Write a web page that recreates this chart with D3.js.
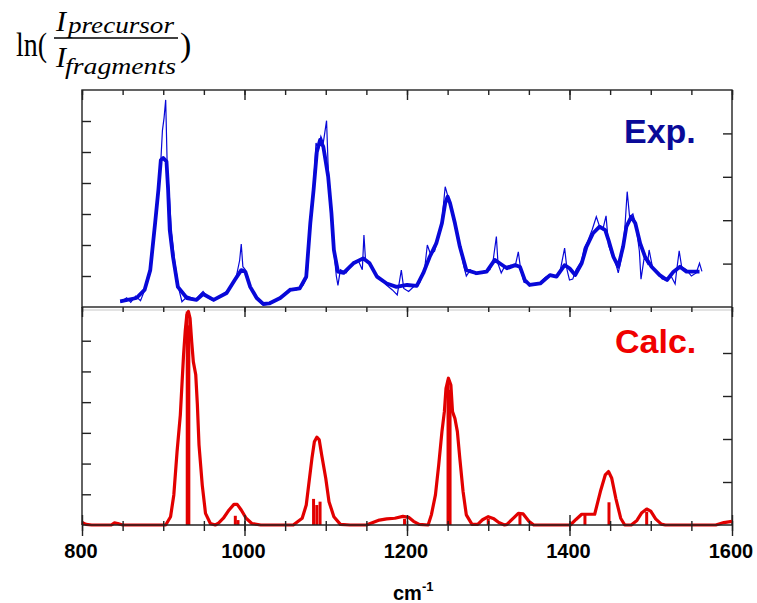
<!DOCTYPE html>
<html>
<head>
<meta charset="utf-8">
<script src="https://cdn.jsdelivr.net/npm/d3@7/dist/d3.min.js"></script>
<style>
  body { margin: 0; background: #fff; }
  svg { display: block; }
</style>
</head>
<body>
<div id="chart"></div>
<script>
// wavenumber ticks
var xTicksMinor = [800, 850, 900, 950, 1000, 1050, 1100, 1150, 1200, 1250, 1300, 1350, 1400, 1450, 1500, 1550, 1600],
    xTicksMajor = [800, 1000, 1200, 1400, 1600];

// experimental spectrum, smoothed (thick line)
var expWn = [847, 867, 877, 884, 890, 894, 897, 900, 904, 906, 908, 912, 918, 929, 941, 949, 962, 978, 988, 996,
    1001, 1007, 1015, 1023, 1031, 1044, 1056, 1068, 1076, 1081, 1085, 1089, 1093, 1097, 1099, 1103, 1107, 1110, 1115, 1122,
    1134, 1146, 1154, 1163, 1175, 1187, 1200, 1212, 1220, 1228, 1236, 1243, 1247, 1250, 1253, 1259, 1265, 1273, 1286, 1298,
    1308, 1314, 1323, 1333, 1339, 1345, 1351, 1364, 1376, 1384, 1394, 1400, 1407, 1415, 1421, 1429, 1437, 1444, 1448, 1454,
    1460, 1466, 1470, 1476, 1481, 1487, 1493, 1501, 1511, 1520, 1528, 1536, 1544, 1552, 1560];
var expVal = [0.18, 0.29, 0.55, 1.19, 2.71, 3.77, 4.74, 4.81, 4.69, 3.77, 2.48, 1.62, 0.65, 0.29, 0.23, 0.42, 0.23, 0.45, 0.87, 1.19,
    1.14, 0.65, 0.29, 0.10, 0.12, 0.29, 0.55, 0.60, 0.98, 2.71, 3.77, 5.0, 5.39, 5.17, 4.85, 4.20, 3.03, 1.84, 1.14, 1.10,
    1.41, 1.57, 1.41, 0.98, 0.76, 0.65, 0.71, 0.68, 1.09, 1.62, 2.05, 2.70, 3.35, 3.56, 3.35, 2.70, 1.95, 1.19, 1.09, 1.14,
    1.52, 1.41, 1.25, 1.35, 1.30, 0.87, 0.71, 0.76, 1.03, 0.98, 1.35, 1.25, 1.03, 1.41, 1.95, 2.38, 2.59, 2.48, 2.16, 1.62,
    1.30, 1.95, 2.59, 2.91, 2.70, 2.05, 1.62, 1.30, 1.03, 0.87, 1.14, 1.30, 1.14, 1.14, 1.14];

// experimental spectrum, raw (thin line)
var rawWn = [847, 855, 860, 866, 872, 878, 884, 890, 894, 897, 899, 901, 903, 905, 907, 910, 914, 919, 923, 930,
    940, 949, 955, 962, 970, 978, 985, 990, 994, 996, 998, 1001, 1006, 1014, 1023, 1031, 1040, 1048, 1056, 1064,
    1072, 1077, 1081, 1085, 1088, 1091, 1094, 1097, 1101, 1103, 1107, 1110, 1113, 1115, 1118, 1125, 1134, 1140, 1145, 1147,
    1149, 1155, 1160, 1168, 1175, 1182, 1188, 1193, 1196, 1202, 1210, 1216, 1222, 1225, 1229, 1234, 1238, 1243, 1247, 1250,
    1254, 1260, 1266, 1270, 1273, 1278, 1285, 1294, 1302, 1306, 1310, 1312, 1316, 1320, 1328, 1333, 1337, 1340, 1344, 1350,
    1357, 1364, 1370, 1376, 1382, 1388, 1394, 1397, 1400, 1404, 1408, 1415, 1418, 1422, 1428, 1433, 1437, 1441, 1445, 1448,
    1452, 1456, 1460, 1464, 1468, 1471, 1474, 1478, 1482, 1486, 1488, 1492, 1496, 1498, 1502, 1508, 1514, 1520, 1525, 1530,
    1532, 1535, 1538, 1544, 1550, 1556, 1560, 1563];
var rawVal = [0.15, 0.3, 0.15, 0.35, 0.2, 0.6, 1.3, 2.8, 3.9, 4.7, 5.7, 6.1, 6.68, 4.4, 3.8, 2.5, 1.5, 0.6, 0.17, 0.35,
    0.25, 0.5, 0.3, 0.2, 0.35, 0.5, 0.7, 1.0, 1.5, 2.03, 1.3, 1.2, 0.7, 0.3, 0.05, 0.1, 0.25, 0.4, 0.6, 0.55,
    0.7, 0.95, 2.8, 3.9, 5.29, 5.1, 5.5, 5.3, 6.01, 4.5, 3.0, 1.8, 1.0, 0.7, 1.2, 1.1, 1.45, 1.5, 1.2, 2.32,
    1.5, 1.4, 1.1, 0.9, 0.7, 0.55, 0.39, 1.19, 0.6, 0.5, 0.7, 0.8, 1.3, 2.0, 1.7, 1.8, 2.2, 2.8, 3.88, 3.6,
    3.3, 2.6, 1.8, 1.3, 1.0, 1.2, 1.05, 1.15, 1.2, 1.5, 2.27, 1.4, 1.1, 1.3, 1.35, 1.3, 1.78, 1.2, 0.8, 0.75,
    0.7, 0.8, 0.95, 1.05, 1.0, 1.1, 1.9, 1.2, 0.87, 0.9, 1.2, 1.5, 1.9, 2.1, 2.5, 2.91, 2.6, 2.5, 2.94, 2.0,
    1.7, 1.5, 1.1, 1.6, 2.5, 3.72, 2.9, 3.0, 2.6, 1.8, 0.9, 1.6, 1.4, 1.84, 1.3, 1.1, 0.9, 0.85, 1.0, 0.74,
    1.2, 1.81, 1.3, 1.2, 1.0, 1.1, 1.41, 1.15];

// calculated spectrum, broadened envelope
var calcWn = [800, 805, 812, 836, 840, 844, 850, 903, 909, 913, 917, 921, 923, 925, 927, 929, 931, 933, 935, 937,
    940, 942, 944, 948, 952, 958, 964, 968, 974, 981, 987, 991, 996, 1002, 1009, 1020, 1060, 1071, 1076, 1080,
    1083, 1086, 1089, 1092, 1095, 1100, 1104, 1110, 1118, 1130, 1150, 1158, 1166, 1175, 1185, 1195, 1202, 1208, 1215, 1226,
    1230, 1235, 1239, 1243, 1246, 1248, 1251, 1254, 1256, 1259, 1262, 1265, 1269, 1273, 1280, 1287, 1293, 1300, 1307, 1313,
    1320, 1323, 1330, 1337, 1343, 1350, 1356, 1401, 1408, 1415, 1424, 1431, 1438, 1444, 1448, 1452, 1457, 1463, 1468, 1476,
    1483, 1489, 1495, 1500, 1506, 1513, 1518, 1580, 1590, 1600];
var calcVal = [0.08, 0.02, 0, 0, 0.07, 0.05, 0, 0, 0.27, 0.98, 2.39, 3.58, 4.56, 5.54, 6.3, 6.84, 6.95, 6.73, 5.97, 5.32,
    4.89, 3.91, 2.61, 1.3, 0.38, 0.05, 0, 0.06, 0.22, 0.49, 0.67, 0.67, 0.49, 0.22, 0.05, 0, 0, 0.22, 0.65, 1.52,
    2.17, 2.71, 2.86, 2.77, 2.28, 1.52, 0.76, 0.27, 0.02, 0, 0, 0.08, 0.16, 0.2, 0.22, 0.28, 0.25, 0.12, 0.02, 0,
    0.33, 0.98, 1.95, 3.04, 3.69, 4.45, 4.78, 4.56, 3.69, 3.47, 3.04, 2.17, 1.09, 0.33, 0.02, 0.02, 0.17, 0.27, 0.2, 0.08,
    0, 0.02, 0.2, 0.38, 0.36, 0.12, 0, 0, 0.18, 0.35, 0.35, 0.35, 1.09, 1.63, 1.74, 1.52, 0.87, 0.22, 0, 0,
    0.15, 0.4, 0.52, 0.45, 0.2, 0.03, 0, 0, 0.08, 0.12];

// calculated stick spectrum
var stickWn = [929.5, 931.5, 988.7, 992, 1085, 1089, 1093, 1197, 1250.5, 1253, 1300, 1339, 1419, 1448.6, 1495];
var stickVal = [6.95, 6.5, 0.3, 0.16, 0.85, 0.65, 0.76, 0.2, 4.7, 4.4, 0.2, 0.35, 0.35, 0.74, 0.43];

var width = 757, height = 603,
    left = 82, right = 732,
    topY0 = 90, topY1 = 307,
    botY0 = 310, botY1 = 525,
    blue = '#0808d8', red = '#e20000', axisCol = '#222';

var svg = d3.select('#chart').append('svg')
    .attr('width', width)
    .attr('height', height);

var x = d3.scaleLinear().domain([800, 1600]).range([left, right]),
    yTop = d3.scaleLinear().domain([0, 7]).range([topY1, topY0]),
    yTopR = d3.scaleLinear().domain([0, 5]).range([topY1, topY0]),
    yBot = d3.scaleLinear().domain([0, 7]).range([botY1, botY0]),
    yBotR = d3.scaleLinear().domain([0, 5]).range([botY1, botY0]);

function zip(a, b) {
    return a.map(function(d, i) { return [d, b[i]]; });
}

function styleAxis(g) {
    g.select('.domain').remove();
    g.selectAll('line').attr('stroke', axisCol).attr('stroke-width', 1.4);
}

// frames
svg.append('rect')
    .attr('x', left).attr('y', topY0)
    .attr('width', right - left).attr('height', topY1 - topY0)
    .attr('fill', 'none').attr('stroke', axisCol).attr('stroke-width', 1.4);
svg.append('line')
    .attr('x1', left).attr('x2', right).attr('y1', botY0).attr('y2', botY0)
    .attr('stroke', '#c8c8c8').attr('stroke-width', 1.2);
svg.append('line')
    .attr('x1', left).attr('x2', left).attr('y1', topY1).attr('y2', botY1)
    .attr('stroke', axisCol).attr('stroke-width', 1.4);
svg.append('line')
    .attr('x1', right).attr('x2', right).attr('y1', topY1).attr('y2', botY1)
    .attr('stroke', axisCol).attr('stroke-width', 1.4);

// top edge ticks of each panel (pointing down)
[topY0, topY1].forEach(function(yy) {
    svg.append('g').attr('transform', 'translate(0,' + yy + ')')
        .call(d3.axisBottom(x).tickValues(xTicksMinor).tickSizeInner(5).tickFormat(''))
        .call(styleAxis);
    svg.append('g').attr('transform', 'translate(0,' + yy + ')')
        .call(d3.axisBottom(x).tickValues(xTicksMajor).tickSizeInner(10).tickFormat(''))
        .call(styleAxis);
});

// left / right ticks
[[yTop, yTopR], [yBot, yBotR]].forEach(function(p) {
    svg.append('g').attr('transform', 'translate(' + left + ',0)')
        .call(d3.axisRight(p[0]).tickValues(d3.range(1, 7)).tickSizeInner(9).tickFormat(''))
        .call(styleAxis);
    svg.append('g').attr('transform', 'translate(' + right + ',0)')
        .call(d3.axisLeft(p[1]).tickValues(d3.range(1, 5)).tickSizeInner(9).tickFormat(''))
        .call(styleAxis);
});

// experimental curves
var lineTop = d3.line()
    .x(function(d) { return x(d[0]); })
    .y(function(d) { return yTop(d[1]); });

svg.append('path')
    .datum(zip(rawWn, rawVal))
    .attr('d', lineTop)
    .attr('fill', 'none')
    .attr('stroke', blue)
    .attr('stroke-width', 1.2);

svg.append('path')
    .datum(zip(expWn, expVal))
    .attr('d', lineTop)
    .attr('fill', 'none')
    .attr('stroke', blue)
    .attr('stroke-width', 3.8)
    .attr('stroke-linejoin', 'round');

// calculated curves
var lineBot = d3.line()
    .x(function(d) { return x(d[0]); })
    .y(function(d) { return yBot(d[1]); });

svg.append('g').selectAll('line')
    .data(zip(stickWn, stickVal))
    .enter().append('line')
    .attr('x1', function(d) { return x(d[0]); })
    .attr('x2', function(d) { return x(d[0]); })
    .attr('y1', yBot(0))
    .attr('y2', function(d) { return yBot(d[1]); })
    .attr('stroke', red)
    .attr('stroke-width', 3);

svg.append('path')
    .datum(zip(calcWn, calcVal))
    .attr('d', lineBot)
    .attr('fill', 'none')
    .attr('stroke', red)
    .attr('stroke-width', 3.2)
    .attr('stroke-linejoin', 'round');

// bottom axis
var bx = svg.append('g').attr('transform', 'translate(0,' + botY1 + ')');
bx.append('line')
    .attr('x1', left).attr('x2', right).attr('y1', 0).attr('y2', 0)
    .attr('stroke', axisCol).attr('stroke-width', 1.6);
bx.append('g')
    .call(d3.axisBottom(x).tickValues(xTicksMinor).tickSizeInner(6).tickFormat(''))
    .call(styleAxis)
    .selectAll('line').attr('y1', -4);
bx.append('g')
    .call(d3.axisBottom(x).tickValues(xTicksMajor).tickSizeInner(11).tickFormat(''))
    .call(styleAxis)
    .selectAll('line').attr('y1', -10);

svg.append('g').selectAll('text')
    .data(xTicksMajor)
    .enter().append('text')
    .attr('x', function(d) { return x(d) - 1; })
    .attr('y', 558)
    .attr('text-anchor', 'middle')
    .style('font-family', 'Liberation Sans, Arial, sans-serif')
    .style('font-weight', 'bold')
    .style('font-size', '20px')
    .text(function(d) { return d; });

var xl = svg.append('text')
    .attr('x', 393).attr('y', 600)
    .style('font-family', 'Liberation Sans, Arial, sans-serif')
    .style('font-weight', 'bold')
    .style('font-size', '20px');
xl.append('tspan').text('cm');
xl.append('tspan').attr('dy', -9).style('font-size', '13px').text('-1');

// panel labels
svg.append('text')
    .attr('x', 624).attr('y', 143)
    .style('font-family', 'Liberation Sans, Arial, sans-serif')
    .style('font-weight', 'bold')
    .style('font-size', '34px')
    .attr('fill', '#0a0a98')
    .text('Exp.');
svg.append('text')
    .attr('x', 615).attr('y', 353)
    .style('font-family', 'Liberation Sans, Arial, sans-serif')
    .style('font-weight', 'bold')
    .style('font-size', '34px')
    .attr('fill', '#f00000')
    .text('Calc.');

// y label: ln(I_precursor / I_fragments)
var serif = 'Liberation Serif, DejaVu Serif, serif';
svg.append('text')
    .attr('x', 16).attr('y', 56)
    .attr('textLength', 31).attr('lengthAdjust', 'spacingAndGlyphs')
    .style('font-family', serif).style('font-size', '34px')
    .text('ln(');
svg.append('text')
    .attr('x', 56).attr('y', 31)
    .style('font-family', serif).style('font-size', '30px').style('font-style', 'italic')
    .text('I');
svg.append('text')
    .attr('x', 68).attr('y', 33)
    .attr('textLength', 106).attr('lengthAdjust', 'spacingAndGlyphs')
    .style('font-family', serif).style('font-size', '24px').style('font-style', 'italic')
    .text('precursor');
svg.append('line')
    .attr('x1', 54).attr('x2', 178).attr('y1', 38).attr('y2', 38)
    .attr('stroke', '#000').attr('stroke-width', 1.5);
svg.append('text')
    .attr('x', 56).attr('y', 67)
    .style('font-family', serif).style('font-size', '30px').style('font-style', 'italic')
    .text('I');
svg.append('text')
    .attr('x', 65).attr('y', 74)
    .attr('textLength', 111).attr('lengthAdjust', 'spacingAndGlyphs')
    .style('font-family', serif).style('font-size', '24px').style('font-style', 'italic')
    .text('fragments');
svg.append('text')
    .attr('x', 180).attr('y', 56)
    .style('font-family', serif).style('font-size', '34px')
    .text(')');
</script>
</body>
</html>
